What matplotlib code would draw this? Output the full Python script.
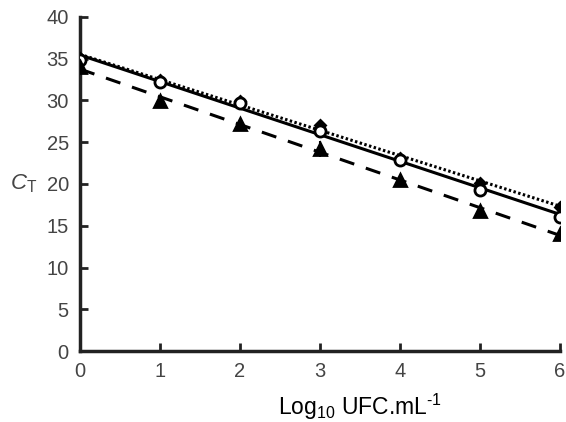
import numpy as np
import matplotlib
matplotlib.use("Agg")
import matplotlib.pyplot as plt

# log10 UFC/mL
x = [0, 1, 2, 3, 4, 5, 6]

# CT values per series
ct_circle = [34.8, 32.2, 29.7, 26.4, 22.9, 19.3, 16.0]
ct_diamond = [35.1, 32.4, 29.9, 27.1, 23.1, 20.1, 17.3]
ct_triangle = [34.0, 29.9, 27.2, 24.2, 20.5, 16.8, 14.0]

err_circle = [0.3, 0.3, 0.3, 0.4, 0.3, 0.4, 0.3]
err_diamond = [0.3, 0.2, 0.2, 0.5, 0.3, 0.2, 0.3]
err_triangle = [0.4, 0.3, 0.2, 1.0, 0.3, 0.3, 0.3]

xticks = [0, 1, 2, 3, 4, 5, 6]
yticks = [0, 5, 10, 15, 20, 25, 30, 35, 40]

plt.rcParams["font.family"] = ["Liberation Sans", "DejaVu Sans"]
plt.rcParams["mathtext.fontset"] = "custom"
plt.rcParams["mathtext.rm"] = "Liberation Sans"
plt.rcParams["mathtext.it"] = "Liberation Sans:italic"

fig = plt.figure(figsize=(5.66, 4.22), dpi=100)
ax = fig.add_axes([0.1413, 0.168, 0.848, 0.792])

xs = np.array([0, 6])
series = [
    (ct_diamond, err_diamond, ":", "D", "black", 5),
    (ct_circle, err_circle, "-", "o", "white", 8),
    (ct_triangle, err_triangle, "--", "^", "black", 8),
]
for ys, err, ls, mk, face, ms in series:
    k, b = np.polyfit(x, ys, 1)
    ax.plot(xs, k * xs + b, ls, color="black", lw=2.2, zorder=2,
            dashes=(5, 4) if ls == "--" else (0.8, 0.8) if ls == ":" else (None, None))
    ax.errorbar(x, ys, yerr=err, fmt=mk, ms=ms, mfc=face, mec="black",
                mew=2, ecolor="black", elinewidth=1.5, capsize=0, zorder=3)

ax.set_xlim(0, 6)
ax.set_ylim(0, 40)
ax.set_xticks(xticks)
ax.set_yticks(yticks)
for s in ["top", "right"]:
    ax.spines[s].set_visible(False)
for s in ["left", "bottom"]:
    ax.spines[s].set_linewidth(2.5)
    ax.spines[s].set_color("#222222")
ax.tick_params(direction="in", length=6, width=2, colors="#222222",
               labelcolor="#444444", labelsize=14.5)
ax.tick_params(axis="x", pad=8)
ax.tick_params(axis="y", pad=8)

ax.text(-0.7, 20, r"$C_{\mathrm{T}}$", fontsize=16, color="#444444",
        ha="center", va="center")
fig.text(0.636, 0.0, r"Log$_{10}$ UFC.mL$^{\text{-}1}$", fontsize=16.5,
         ha="center", va="bottom", color="black")

fig.savefig("out.png", dpi=100)
